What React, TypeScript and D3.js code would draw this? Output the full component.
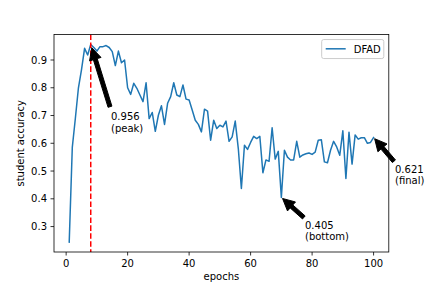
import React from "react";
import * as d3 from "d3";

const epochs: number[] = Array.from({ length: 100 }, (_, i) => i + 1);
const accuracy: number[] = [
  0.244, 0.585, 0.69, 0.80, 0.865, 0.942, 0.918, 0.956, 0.945, 0.932,
  0.948, 0.948, 0.952, 0.945, 0.93, 0.88, 0.932, 0.89, 0.90, 0.80,
  0.776, 0.816, 0.798, 0.774, 0.75, 0.818, 0.689, 0.711, 0.643, 0.701,
  0.735, 0.668, 0.744, 0.768, 0.818, 0.774, 0.768, 0.81, 0.759, 0.756,
  0.72, 0.683, 0.668, 0.641, 0.723, 0.716, 0.611, 0.683, 0.653, 0.665,
  0.659, 0.68, 0.607, 0.623, 0.68, 0.581, 0.437, 0.593, 0.578, 0.603,
  0.625, 0.617, 0.625, 0.494, 0.54, 0.535, 0.656, 0.543, 0.571, 0.405,
  0.575, 0.55, 0.54, 0.54, 0.607, 0.55, 0.558, 0.562, 0.565, 0.56,
  0.568, 0.611, 0.613, 0.533, 0.53, 0.575, 0.607, 0.587, 0.557, 0.645,
  0.473, 0.64, 0.525, 0.63, 0.615, 0.62, 0.62, 0.60, 0.603, 0.621,
];
const xTicks: number[] = [0, 20, 40, 60, 80, 100];
const yTicks: number[] = [0.3, 0.4, 0.5, 0.6, 0.7, 0.8, 0.9];
const seriesName = "DFAD";
const peakEpoch = 8;
const annotations = [
  { epoch: 8, value: 0.956, label: ["0.956", "(peak)"], tx: 111, ty: 120 },
  { epoch: 70, value: 0.405, label: ["0.405", "(bottom)"], tx: 305, ty: 228.5 },
  { epoch: 100, value: 0.621, label: ["0.621", "(final)"], tx: 395, ty: 172.5 },
];

const W = 432, H = 288;
const L = 54, R = 388.8, T = 34.56, B = 252;
const FONT = "DejaVu Sans";

function arrowPath(sx: number, sy: number, tx: number, ty: number): string {
  const dx = tx - sx, dy = ty - sy;
  const len = Math.hypot(dx, dy);
  const ux = dx / len, uy = dy / len;
  const nx = -uy, ny = ux;
  const s = 0.05;
  const ax = sx + dx * s, ay = sy + dy * s;
  const ex = tx - dx * s, ey = ty - dy * s;
  const hl = 12, w = 4, hw = 12;
  const bx = ex - ux * hl, by = ey - uy * hl;
  const pts: [number, number][] = [
    [ax + nx * w / 2, ay + ny * w / 2],
    [bx + nx * w / 2, by + ny * w / 2],
    [bx + nx * hw / 2, by + ny * hw / 2],
    [ex, ey],
    [bx - nx * hw / 2, by - ny * hw / 2],
    [bx - nx * w / 2, by - ny * w / 2],
    [ax - nx * w / 2, ay - ny * w / 2],
  ];
  return "M" + pts.map((p) => p.join(",")).join("L") + "Z";
}

export default function App() {
  const x = d3.scaleLinear().domain([1 - 0.05 * 99, 100 + 0.05 * 99]).range([L, R]);
  const ymin = d3.min(accuracy)!, ymax = d3.max(accuracy)!;
  const pad = (ymax - ymin) * 0.05;
  const y = d3.scaleLinear().domain([ymin - pad, ymax + pad]).range([B, T]);
  const line = d3
    .line<number>()
    .x((_, i) => x(epochs[i]))
    .y((d) => y(d));

  return (
    <svg
      width={W}
      height={H}
      style={{ position: "absolute", left: 0, top: 0, background: "#fff" }}
      fontFamily={FONT}
      fontSize={10}
    >
      <rect x={0} y={0} width={W} height={H} fill="#fff" />
      <defs>
        <clipPath id="plot">
          <rect x={L} y={T} width={R - L} height={B - T} />
        </clipPath>
      </defs>
      <g clipPath="url(#plot)">
        <path d={line(accuracy) || ""} fill="none" stroke="#1f77b4" strokeWidth={1.5} strokeLinejoin="round" strokeLinecap="square" />
        <line x1={x(peakEpoch)} x2={x(peakEpoch)} y1={T} y2={B} stroke="#ff0000" strokeWidth={1.5} strokeDasharray="5.55,2.4" />
      </g>
      {/* frame */}
      <rect x={L} y={T} width={R - L} height={B - T} fill="none" stroke="#000" strokeWidth={0.8} />
      {/* x ticks */}
      {xTicks.map((t) => (
        <g key={"x" + t}>
          <line x1={x(t)} x2={x(t)} y1={B} y2={B + 3.5} stroke="#000" strokeWidth={0.8} />
          <text x={x(t)} y={266.6} textAnchor="middle" fill="#000">{t}</text>
        </g>
      ))}
      {yTicks.map((t) => (
        <g key={"y" + t}>
          <line x1={L - 3.5} x2={L} y1={y(t)} y2={y(t)} stroke="#000" strokeWidth={0.8} />
          <text x={L - 7} y={y(t) + 3.6} textAnchor="end" fill="#000">{t.toFixed(1)}</text>
        </g>
      ))}
      <text x={(L + R) / 2} y={280} textAnchor="middle" fill="#000">epochs</text>
      <text transform={`translate(24,${(T + B) / 2}) rotate(-90)`} textAnchor="middle" fill="#000">student accuracy</text>
      {/* annotations */}
      {annotations.map((a, i) => {
        const px = x(a.epoch), py = y(a.value);
        const top = a.ty - 10;
        return (
          <g key={"a" + i}>
            <path d={arrowPath(a.tx, top, px, py)} fill="#000" stroke="#000" strokeWidth={1} strokeLinejoin="miter" />
            {a.label.map((s, j) => (
              <text key={j} x={a.tx} y={a.ty + j * 11.5} fill="#000">{s}</text>
            ))}
          </g>
        );
      })}
      {/* legend */}
      <rect x={321.7} y={39.56} width={383.8 - 321.7} height={19} rx={2} fill="#fff" fillOpacity={0.8} stroke="#cccccc" strokeWidth={1} />
      <line x1={325.7} x2={345.7} y1={48.8} y2={48.8} stroke="#1f77b4" strokeWidth={1.5} />
      <text x={353.7} y={52.5} fill="#000">{seriesName}</text>
    </svg>
  );
}
